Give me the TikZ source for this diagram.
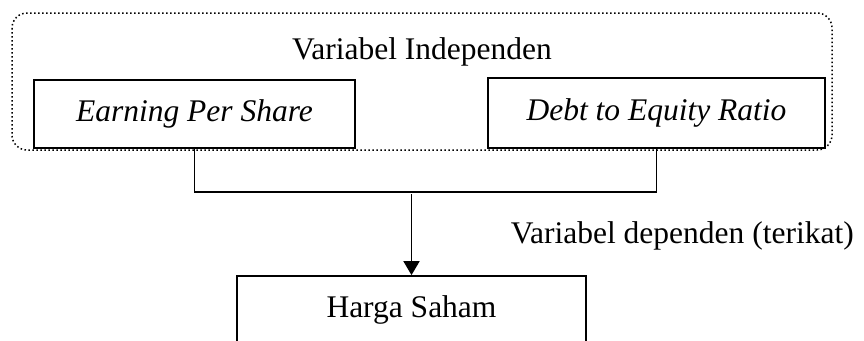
\documentclass[tikz,border=0pt]{standalone}
\usepackage{fontspec}
\setmainfont{Liberation Serif}
\usetikzlibrary{arrows.meta}
\begin{document}
\begin{tikzpicture}[x=0.4pt,y=-0.4pt,line width=0.7pt,
    varbox/.style={draw, rectangle, inner sep=0pt, text height=8.6pt, text depth=3pt, font=\fontsize{12.6}{15}\selectfont\itshape},
    plainlabel/.style={inner sep=0pt, anchor=base, font=\fontsize{12.6}{15}\selectfont}]
        \clip (0,0) rectangle (864,340);
        \draw[densely dotted, line width=0.6pt, rounded corners=6pt] (12,13) rectangle (832,150);

        \node[plainlabel] (indep) at (422,59) {Variabel Independen};
        \node[varbox, minimum width=128.4pt, minimum height=27.2pt] (eps) at (194.5,114) {Earning Per Share};
        \node[varbox, minimum width=134.8pt, minimum height=28pt] (der) at (656.5,113) {Debt to Equity Ratio};
        \node[draw, inner sep=0pt, minimum width=139.6pt, minimum height=32pt] (harga) at (411.5,316) {};
        \node[plainlabel] (hargatext) at (411.5,317) {Harga Saham};
        \node[plainlabel, anchor=base west] (dep) at (510,243) {Variabel dependen (terikat)};

        \draw (eps.south) -- (eps.south |- 0,192) -| (der.south);
        \draw[-{Triangle[width=6.4pt,length=5.6pt]}] (harga.north |- 0,194) -- (harga.north);
    \end{tikzpicture}
\end{document}
